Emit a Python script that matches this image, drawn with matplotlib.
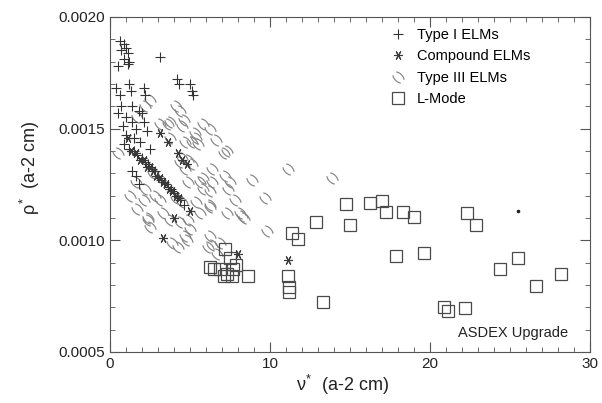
"""Normalised gyroradius vs collisionality for the ASDEX Upgrade edge regimes."""

import matplotlib

matplotlib.use("Agg")
import matplotlib.pyplot as plt
import numpy as np
from matplotlib.path import Path
from matplotlib.ticker import MultipleLocator

plt.rcParams["font.family"] = ["Liberation Sans", "DejaVu Sans"]
plt.rcParams["mathtext.fontset"] = "custom"
plt.rcParams["mathtext.rm"] = "Liberation Sans"
plt.rcParams["mathtext.it"] = "Liberation Sans"

# --- data -------------------------------------------------------------------
type1_x = [0.6, 0.9, 1.0, 0.7, 1.1, 0.9, 1.2, 0.5, 1.1, 3.1,
           4.2, 4.3, 5.0, 5.2, 5.1, 0.4, 1.2, 1.3, 2.1, 2.2,
           0.6, 0.7, 1.4, 1.8, 2.0, 0.5, 1.0, 1.4, 2.1, 0.8,
           1.6, 2.3, 1.0, 1.5, 1.9, 1.2, 1.5, 1.7, 2.0, 2.2,
           2.4, 2.6, 2.8, 3.0, 3.2, 3.4, 3.6, 3.8, 4.0, 4.2,
           4.4, 1.4, 1.6, 0.9, 2.5, 1.8, 4.6]
type1_y = [0.00189, 0.00188, 0.00186, 0.00185, 0.00184, 0.00181, 0.00180, 0.00178, 0.00179, 0.00182,
           0.00172, 0.00170, 0.00170, 0.00165, 0.00167, 0.00168, 0.00170, 0.00167, 0.00168, 0.00165,
           0.00165, 0.00160, 0.00160, 0.00158, 0.00157, 0.00157, 0.00155, 0.00153, 0.00153, 0.00151,
           0.00150, 0.00149, 0.00147, 0.00146, 0.00144, 0.00141, 0.00140, 0.00138, 0.00137, 0.00135,
           0.00134, 0.00132, 0.00131, 0.00129, 0.00127, 0.00126, 0.00124, 0.00123, 0.00121, 0.00120,
           0.00118, 0.00131, 0.00129, 0.00143, 0.00141, 0.00125, 0.00116]

compound_x = [1.1, 3.1, 3.6, 4.25, 4.5, 4.8, 1.3, 1.6, 1.9, 2.1,
              2.3, 2.5, 2.7, 2.9, 3.1, 3.3, 3.5, 3.7, 3.9, 4.1,
              4.3, 3.3, 8.0, 11.1, 4.0, 5.0]
compound_y = [0.00146, 0.00148, 0.00144, 0.00139, 0.00136, 0.00134, 0.00140, 0.00139, 0.00136, 0.00136,
              0.00133, 0.00133, 0.00131, 0.00129, 0.00128, 0.00126, 0.00125, 0.00123, 0.00122, 0.00120,
              0.00119, 0.00101, 0.00094, 0.00091, 0.00110, 0.00113]

type3_x = [2.5, 2.2, 4.1, 4.4, 3.75, 4.6, 5.8, 1.7, 3.1, 3.6,
           4.5, 5.3, 6.25, 5.4, 5.1, 3.75, 4.7, 5.5, 7.3, 7.1,
           6.4, 5.8, 7.5, 8.9, 11.1, 13.9, 9.7, 6.25, 7.3, 8.25,
           6.25, 9.8, 6.4, 6.9, 4.9, 5.6, 6.4, 5.8, 2.1, 1.7,
           2.4, 2.5, 3.3, 3.75, 4.4, 3.9, 4.25, 4.8, 5.0, 5.6,
           5.4, 6.25, 8.1, 6.1, 6.7, 6.25, 0.5, 1.6, 2.7, 4.5,
           4.9, 5.1, 4.7, 4.4, 2.4, 4.5, 4.1, 4.9, 4.7, 2.2,
           1.25, 2.8, 3.1, 7.8, 8.4, 6.6, 7.2, 7.4]
type3_y = [0.00163, 0.00160, 0.00160, 0.00158, 0.00153, 0.00154, 0.00152, 0.00155, 0.00152, 0.00152,
           0.00151, 0.00148, 0.00150, 0.00146, 0.00144, 0.00146, 0.00144, 0.00143, 0.00140, 0.00139,
           0.00132, 0.00128, 0.00126, 0.00127, 0.00132, 0.00128, 0.00119, 0.00122, 0.00112, 0.00111,
           0.00115, 0.00104, 0.00098, 0.00099, 0.00126, 0.00126, 0.00126, 0.00123, 0.00118, 0.00114,
           0.00110, 0.00106, 0.00112, 0.00109, 0.00108, 0.00099, 0.00097, 0.00100, 0.00105, 0.00112,
           0.00117, 0.00116, 0.00112, 0.00097, 0.00094, 0.00102, 0.00139, 0.00126, 0.00130, 0.00137,
           0.00136, 0.00134, 0.00132, 0.00135, 0.00109, 0.00117, 0.00119, 0.00109, 0.00102, 0.00123,
           0.00120, 0.00120, 0.00118, 0.00118, 0.00110, 0.00145, 0.00129, 0.00123]

lmode_x = [14.75, 15.0, 16.25, 17.0, 17.25, 12.9, 11.4, 11.75, 18.3, 19.0,
           17.9, 19.6, 13.3, 20.9, 21.1, 22.2, 22.3, 22.9, 24.4, 25.5,
           26.6, 28.2, 11.1, 11.2, 11.2, 6.25, 7.2, 7.3, 7.7, 7.9,
           8.6, 6.9, 7.5, 7.1, 7.6, 6.5]
lmode_y = [0.001163, 0.001069, 0.001167, 0.001176, 0.001127, 0.001082, 0.001033, 0.001006, 0.001127, 0.001104,
           0.000930, 0.000943, 0.000724, 0.000701, 0.000684, 0.000697, 0.001122, 0.001069, 0.000872, 0.000921,
           0.000796, 0.000849, 0.00084, 0.00079, 0.00077, 0.00088, 0.00096, 0.00085, 0.00087, 0.00089,
           0.00084, 0.00087, 0.00092, 0.00084, 0.00084, 0.00087]

stray_x = [25.5]
stray_y = [0.00113]


def _split_ring():
    """Two opposing arcs of a tilted ellipse, the Type III symbol."""
    c, s = np.cos(-np.pi / 4), np.sin(-np.pi / 4)
    verts, codes = [], []
    for t0 in (np.pi / 2, 3 * np.pi / 2):
        t = np.linspace(t0 - np.radians(55), t0 + np.radians(55), 14)
        u, v = np.cos(t), 0.6 * np.sin(t)
        pts = list(zip(u * c - v * s, u * s + v * c))
        verts += pts
        codes += [Path.MOVETO] + [Path.LINETO] * (len(pts) - 1)
    return Path(verts, codes)


fig = plt.figure(figsize=(6.02, 4.03), dpi=100)
ax = fig.add_axes([0.1827, 0.1266, 0.7973, 0.8314])

ax.plot(type3_x, type3_y, linestyle="none", marker=_split_ring(), markersize=8,
        markerfacecolor="none", markeredgecolor="#858585", markeredgewidth=0.85,
        label="Type III ELMs")
ax.plot(lmode_x, lmode_y, linestyle="none", marker="s", markersize=8.5,
        markerfacecolor="none", markeredgecolor="#4a4a4a", markeredgewidth=0.9,
        label="L-Mode")
ax.plot(type1_x, type1_y, linestyle="none", marker="+", markersize=7,
        color="#333333", markeredgewidth=0.8, label="Type I ELMs")
ax.plot(compound_x, compound_y, linestyle="none", marker=(6, 2, 90), markersize=6.5,
        color="#3a3a3a", markeredgewidth=0.8, label="Compound ELMs")
ax.plot(stray_x, stray_y, linestyle="none", marker="o", markersize=1.6,
        color="#222222")

ax.set_xlim(0, 30)
ax.set_ylim(0.0005, 0.0020)
ax.xaxis.set_major_locator(MultipleLocator(10))
ax.xaxis.set_minor_locator(MultipleLocator(1))
ax.yaxis.set_major_locator(MultipleLocator(0.0005))
ax.yaxis.set_minor_locator(MultipleLocator(0.0001))
ax.yaxis.set_major_formatter(plt.FuncFormatter(lambda v, _: f"{v:.4f}"))
ax.tick_params(which="both", direction="in", top=True, right=True,
               color="#555555", labelsize=11, labelcolor="#222222")
ax.tick_params(which="major", length=7, width=0.8)
ax.tick_params(which="minor", length=3.5, width=0.6)
for spine in ax.spines.values():
    spine.set_color("#555555")
    spine.set_linewidth(0.8)

ax.set_xlabel(r"$\nu^{*}$  (a-2 cm)", fontsize=13, color="#222222")
ax.set_ylabel(r"$\rho^{*}$  (a-2 cm)", fontsize=13, color="#222222")
ax.xaxis.set_label_coords(0.485, -0.062)
ax.yaxis.set_label_coords(-0.142, 0.55)

handles, labels = ax.get_legend_handles_labels()
order = [2, 3, 0, 1]
ax.legend([handles[i] for i in order], [labels[i] for i in order],
          loc="upper right", frameon=False, fontsize=10.5, handlelength=1.0,
          handletextpad=0.8, labelspacing=0.5, borderaxespad=0.0,
          bbox_to_anchor=(0.8875, 0.984))

ax.text(0.955, 0.035, "ASDEX Upgrade", transform=ax.transAxes, ha="right",
        va="bottom", fontsize=10.5, color="#222222")

fig.savefig("out.png", dpi=100)
